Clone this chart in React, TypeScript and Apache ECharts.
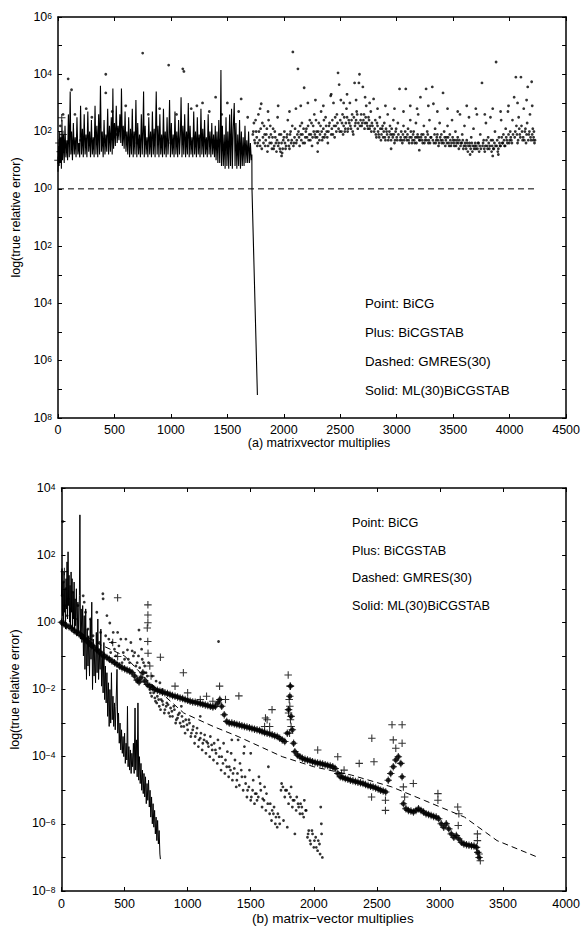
import React, { useEffect, useRef } from "react";
import * as echarts from "echarts";

// ---------- Panel (a): values are log10(true relative error) ----------
const topXTicks = [0, 500, 1000, 1500, 2000, 2500, 3000, 3500, 4000, 4500];

const topGmres: [number, number][] = [
  [0, 0], [4225, 0],
];

const topMl: [number, number][] = [
  [0, 0.6], [5, 1.5], [10, 0.8], [15, 2.0], [20, 0.9], [25, 1.8], [30, 0.7], [35, 2.4], [40, 1.0], [48, 1.9],
  [55, 0.9], [62, 2.2], [70, 1.1], [78, 1.7], [85, 1.0], [92, 2.6], [100, 1.1], [108, 3.4], [114, 1.2], [120, 2.0],
  [128, 1.0], [136, 2.3], [144, 1.2], [152, 1.8], [160, 1.1], [168, 2.5], [176, 1.2], [184, 1.6], [192, 1.1], [200, 2.9],
  [208, 1.2], [216, 2.1], [224, 1.1], [232, 2.6], [240, 1.2], [248, 1.9], [256, 1.1], [264, 2.7], [272, 1.3], [280, 2.0],
  [288, 1.1], [296, 2.4], [304, 1.2], [312, 1.8], [320, 1.1], [328, 2.9], [336, 1.2], [344, 2.2], [352, 1.1], [360, 2.6],
  [368, 1.2], [376, 3.6], [384, 1.3], [392, 2.0], [400, 1.1], [408, 2.4], [416, 1.2], [424, 1.9], [432, 1.3], [440, 2.8],
  [448, 1.2], [456, 2.2], [464, 1.3], [472, 2.5], [480, 1.2], [486, 3.5], [492, 1.4], [500, 2.3], [508, 1.5], [516, 2.9],
  [524, 1.6], [532, 2.2], [540, 1.7], [548, 2.6], [556, 1.6], [562, 3.5], [570, 1.5], [578, 2.2], [586, 1.4], [594, 2.7],
  [602, 1.3], [610, 2.0], [618, 1.2], [626, 2.5], [634, 1.1], [642, 2.1], [650, 1.2], [658, 2.8], [666, 1.1], [674, 2.0],
  [682, 1.2], [690, 3.1], [698, 1.1], [706, 2.3], [714, 1.2], [722, 1.9], [730, 1.1], [738, 2.6], [746, 1.2], [752, 2.0],
  [758, 3.4], [764, 1.1], [772, 2.2], [780, 1.2], [788, 1.8], [796, 1.1], [804, 2.5], [812, 1.2], [820, 2.0], [828, 1.1],
  [836, 2.7], [844, 1.2], [852, 2.1], [860, 1.1], [870, 3.4], [878, 1.2], [886, 2.2], [894, 1.1], [902, 2.6], [910, 1.2],
  [918, 1.9], [926, 1.1], [934, 2.8], [942, 1.2], [950, 2.0], [958, 1.1], [966, 2.5], [974, 1.2], [982, 1.8], [988, 3.1],
  [996, 1.1], [1004, 2.3], [1012, 1.2], [1020, 1.9], [1028, 1.1], [1036, 2.7], [1044, 1.2], [1052, 2.0], [1060, 1.1], [1068, 2.4],
  [1076, 1.2], [1084, 1.9], [1090, 3.2], [1098, 1.1], [1106, 2.2], [1114, 1.2], [1122, 2.6], [1130, 1.1], [1138, 2.0], [1146, 1.2],
  [1154, 3.0], [1162, 1.1], [1170, 2.2], [1178, 1.2], [1186, 1.8], [1194, 1.1], [1202, 2.7], [1210, 1.2], [1218, 2.0], [1226, 1.1],
  [1234, 2.5], [1242, 1.2], [1250, 1.9], [1258, 1.1], [1266, 2.8], [1274, 1.2], [1282, 2.1], [1290, 1.1], [1298, 2.4], [1306, 1.2],
  [1314, 1.8], [1322, 1.1], [1330, 2.6], [1338, 1.2], [1346, 2.0], [1354, 1.1], [1362, 2.3], [1370, 1.2], [1378, 1.9], [1386, 1.1],
  [1393, 2.2], [1400, 1.0], [1408, 2.0], [1416, 0.9], [1424, 2.4], [1432, 0.9], [1438, 1.8], [1443, 4.15], [1448, 0.8], [1456, 2.2],
  [1464, 0.8], [1472, 1.9], [1480, 0.7], [1488, 2.5], [1496, 0.8], [1504, 2.0], [1512, 0.7], [1520, 2.6], [1528, 0.8], [1537, 2.8],
  [1544, 0.7], [1552, 2.1], [1561, 3.0], [1568, 0.8], [1576, 2.3], [1584, 0.7], [1592, 1.9], [1600, 0.8], [1608, 2.4], [1616, 0.7],
  [1624, 2.0], [1632, 0.8], [1640, 1.8], [1648, 0.8], [1656, 2.2], [1664, 0.9], [1672, 1.7], [1680, 0.9], [1688, 2.0], [1696, 0.9],
  [1704, 1.6], [1712, 1.0], [1717, 1.2], [1718, 0.0], [1766, -7.2],
];

const topBicg: [number, number][] = [
  [20, 2.2], [45, 2.6], [60, 1.5], [90, 3.84], [120, 3.46], [150, 2.6], [200, 1.7], [250, 2.8], [300, 2.5], [350, 1.8],
  [423, 4.0], [423, 3.35], [480, 2.7], [520, 1.9], [600, 2.9], [700, 1.6], [750, 4.74], [800, 2.6], [850, 1.7], [900, 2.8],
  [980, 4.32], [1000, 1.6], [1050, 2.6], [1105, 4.19], [1115, 4.1], [1150, 1.8], [1180, 2.8], [1230, 2.9], [1280, 3.0], [1300, 1.7],
  [1340, 2.7], [1396, 3.2], [1450, 2.6], [1480, 1.6], [1500, 3.0], [1600, 2.7], [1622, 3.14], [1650, 1.5], [1680, 2.5],
  [1725, 1.9], [1735, 2.3], [1745, 1.6], [1755, 2.0], [1765, 1.5], [1775, 2.6], [1785, 1.7], [1795, 2.1], [1800, 2.97], [1805, 1.4],
  [1815, 1.8], [1825, 2.2], [1835, 1.5], [1845, 1.9], [1855, 1.3], [1865, 2.4], [1875, 1.6], [1885, 1.9], [1895, 1.4], [1905, 2.1],
  [1915, 1.5], [1925, 1.8], [1935, 1.3], [1945, 2.5], [1955, 1.6], [1965, 1.4], [1975, 1.9], [1985, 1.25], [1995, 1.7], [2005, 2.0],
  [2015, 1.4], [2025, 1.8], [2035, 2.4], [2045, 1.5], [2055, 1.9], [2065, 1.6], [2075, 2.2], [2080, 4.78], [2085, 1.5], [2095, 1.8],
  [2107, 2.8], [2115, 1.7], [2125, 4.19], [2130, 2.0], [2140, 1.5], [2150, 1.9], [2160, 2.3], [2170, 1.6], [2180, 3.53], [2190, 1.8],
  [2200, 2.1], [2213, 3.0], [2220, 1.7], [2230, 2.4], [2240, 1.9], [2250, 1.5], [2260, 2.2], [2270, 2.6], [2280, 1.8], [2290, 2.0],
  [2300, 1.6], [2310, 2.3], [2320, 1.9], [2330, 2.7], [2340, 1.7], [2350, 2.1], [2360, 1.8], [2370, 2.5], [2380, 2.0], [2390, 1.6],
  [2400, 2.2], [2415, 3.25], [2420, 1.9], [2430, 2.4], [2440, 3.0], [2450, 1.8], [2460, 2.2], [2470, 2.6], [2480, 4.05], [2490, 3.64],
  [2495, 2.0], [2505, 3.1], [2515, 2.3], [2525, 1.9], [2535, 2.5], [2545, 2.1], [2555, 2.8], [2565, 2.0], [2575, 2.4], [2585, 3.0],
  [2595, 2.1], [2605, 2.6], [2615, 1.9], [2627, 3.7], [2635, 2.3], [2645, 2.7], [2655, 2.1], [2665, 3.7], [2670, 4.0], [2680, 2.4],
  [2690, 2.2], [2700, 3.56], [2710, 2.6], [2720, 2.3], [2730, 2.9], [2740, 2.2], [2750, 2.5], [2760, 2.1], [2770, 2.7], [2780, 2.3],
  [2795, 3.14], [2800, 2.0], [2810, 2.4], [2820, 1.8], [2830, 2.2], [2840, 1.9], [2850, 2.5], [2860, 1.7], [2870, 2.1], [2880, 1.8],
  [2890, 2.3], [2900, 1.7], [2910, 2.0], [2920, 2.6], [2930, 1.8], [2940, 2.2], [2950, 1.7], [2960, 1.9], [2970, 2.4], [2980, 1.6],
  [2990, 2.0], [3000, 1.8], [3010, 2.3], [3025, 3.49], [3030, 1.7], [3040, 2.0], [3050, 1.6], [3060, 2.2], [3070, 1.8], [3080, 3.49],
  [3090, 1.7], [3100, 2.1], [3110, 1.6], [3120, 2.4], [3130, 1.8], [3140, 1.7], [3150, 2.0], [3160, 1.6], [3170, 2.3], [3180, 1.8],
  [3190, 2.6], [3200, 1.7], [3210, 3.2], [3220, 1.9], [3230, 1.6], [3240, 2.2], [3250, 1.7], [3260, 3.49], [3270, 2.0], [3280, 1.6],
  [3290, 2.4], [3300, 1.8], [3315, 3.56], [3325, 2.97], [3330, 1.6], [3340, 2.1], [3350, 1.7], [3360, 1.9], [3370, 1.5], [3380, 2.3],
  [3390, 1.7], [3400, 1.6], [3410, 3.35], [3420, 2.0], [3430, 1.5], [3440, 1.8], [3450, 2.2], [3460, 1.6], [3470, 1.9], [3480, 1.5],
  [3490, 2.4], [3500, 1.7], [3510, 1.5], [3520, 2.0], [3530, 1.6], [3540, 1.8], [3550, 1.4], [3560, 2.6], [3570, 1.6], [3580, 1.9],
  [3590, 1.4], [3600, 2.2], [3610, 1.5], [3620, 1.7], [3630, 1.3], [3640, 2.5], [3650, 1.5], [3660, 1.8], [3670, 1.3], [3680, 2.1],
  [3690, 1.5], [3700, 1.4], [3710, 2.6], [3720, 1.6], [3730, 1.3], [3740, 1.9], [3755, 3.7], [3760, 1.5], [3770, 1.7], [3780, 1.3],
  [3790, 2.3], [3800, 1.5], [3810, 1.8], [3820, 1.4], [3830, 2.5], [3840, 1.3], [3850, 1.7], [3860, 1.4], [3870, 2.0], [3880, 4.43],
  [3885, 1.5], [3895, 1.3], [3905, 1.8], [3915, 1.5], [3925, 2.4], [3935, 1.6], [3945, 1.9], [3955, 1.5], [3965, 2.1], [3975, 1.7],
  [3985, 2.7], [3995, 1.6], [4005, 2.0], [4015, 1.7], [4025, 2.4], [4040, 3.2], [4045, 1.8], [4055, 3.9], [4060, 2.2], [4070, 1.6],
  [4080, 2.5], [4090, 1.9], [4100, 3.9], [4105, 2.2], [4115, 1.7], [4125, 2.8], [4135, 2.0], [4145, 1.6], [4155, 2.3], [4160, 3.56],
  [4170, 1.9], [4180, 2.6], [4190, 1.7], [4195, 3.74], [4205, 2.1], [4212, 1.8], [4220, 1.6],
  [1730, 2.0], [1740, 1.7], [1750, 2.4], [1760, 1.8], [1770, 1.6], [1780, 2.0], [1790, 1.5], [1810, 2.3], [1820, 1.6], [1830, 1.9],
  [1840, 1.7], [1850, 2.1], [1860, 1.5], [1870, 1.8], [1880, 2.2], [1890, 1.6], [1900, 1.8], [1910, 1.4], [1920, 2.0], [1930, 1.6],
  [1940, 1.7], [1950, 1.5], [1960, 1.9], [1970, 1.3], [1980, 1.6], [1990, 1.4], [2000, 1.8], [2010, 1.6], [2020, 1.5], [2030, 1.9],
  [2040, 1.7], [2050, 1.4], [2060, 2.0], [2070, 1.7], [2090, 1.6], [2100, 2.1], [2110, 1.6], [2120, 1.9], [2135, 1.8], [2145, 2.2],
  [2155, 1.7], [2165, 1.9], [2175, 2.1], [2185, 1.6], [2195, 2.0], [2205, 1.8], [2215, 2.2], [2225, 1.9], [2235, 1.7], [2245, 2.3],
  [2255, 1.8], [2265, 2.0], [2275, 1.9], [2285, 2.4], [2295, 1.8], [2305, 2.0], [2315, 1.7], [2325, 2.2], [2335, 2.0], [2345, 1.8],
  [2355, 2.4], [2365, 1.9], [2375, 2.2], [2385, 1.8], [2395, 2.0], [2405, 2.3], [2425, 2.1], [2435, 1.9], [2445, 2.2], [2455, 2.5],
  [2465, 2.0], [2475, 2.3], [2485, 2.1], [2500, 2.4], [2510, 2.0], [2520, 2.6], [2530, 2.2], [2540, 2.0], [2550, 2.3], [2560, 2.5],
  [2570, 2.1], [2580, 2.3], [2590, 2.2], [2600, 2.4], [2610, 2.0], [2620, 2.5], [2630, 2.2], [2640, 2.4], [2650, 2.6], [2660, 2.3],
  [2675, 2.2], [2685, 2.6], [2695, 2.3], [2705, 2.4], [2715, 2.1], [2725, 2.5], [2735, 2.3], [2745, 2.1], [2755, 2.4], [2765, 2.2],
  [2775, 2.0], [2785, 2.2], [2805, 2.1], [2815, 1.9], [2825, 2.3], [2835, 2.0], [2845, 1.8], [2855, 2.1], [2865, 1.9], [2875, 2.2],
  [2885, 2.0], [2895, 1.8], [2905, 2.1], [2915, 1.9], [2925, 1.7], [2935, 2.0], [2945, 1.9], [2955, 2.1], [2965, 1.8], [2975, 1.9],
  [2985, 1.7], [2995, 2.1], [3005, 1.7], [3015, 1.9], [3035, 1.8], [3045, 1.7], [3055, 1.9], [3065, 1.7], [3075, 2.0], [3085, 1.8],
  [3095, 1.9], [3105, 1.7], [3115, 1.8], [3125, 2.0], [3135, 1.6], [3145, 1.9], [3155, 1.7], [3165, 1.8], [3175, 1.6], [3185, 1.9],
  [3195, 1.8], [3205, 1.7], [3215, 1.8], [3225, 1.7], [3235, 1.9], [3245, 1.6], [3255, 1.8], [3265, 1.7], [3275, 1.9], [3285, 1.7],
  [3295, 1.6], [3305, 1.8], [3320, 1.7], [3335, 1.9], [3345, 1.6], [3355, 1.8], [3365, 1.7], [3375, 1.6], [3385, 1.8], [3395, 1.9],
  [3405, 1.7], [3415, 1.6], [3425, 1.8], [3435, 1.7], [3445, 1.6], [3455, 1.8], [3465, 1.5], [3475, 1.7], [3485, 1.6], [3495, 1.8],
  [3505, 1.6], [3515, 1.7], [3525, 1.5], [3535, 1.7], [3545, 1.6], [3555, 1.7], [3565, 1.5], [3575, 1.6], [3585, 1.7], [3595, 1.5],
  [3605, 1.6], [3615, 1.4], [3625, 1.6], [3635, 1.5], [3645, 1.6], [3655, 1.4], [3665, 1.6], [3675, 1.5], [3685, 1.4], [3695, 1.6],
  [3705, 1.5], [3715, 1.4], [3725, 1.6], [3735, 1.5], [3745, 1.4], [3765, 1.6], [3775, 1.4], [3785, 1.5], [3795, 1.7], [3805, 1.4],
  [3815, 1.6], [3825, 1.5], [3835, 1.7], [3845, 1.5], [3855, 1.4], [3865, 1.6], [3875, 1.5], [3890, 1.7], [3900, 1.4], [3910, 1.6],
  [3920, 1.5], [3930, 1.8], [3940, 1.6], [3950, 1.7], [3960, 1.5], [3970, 1.8], [3980, 1.6], [3990, 1.9], [4000, 1.7], [4010, 1.8],
  [4020, 1.6], [4030, 1.9], [4050, 2.0], [4065, 1.9], [4075, 1.7], [4085, 2.1], [4095, 1.8], [4110, 2.0], [4120, 1.8], [4130, 1.7],
  [4140, 2.1], [4150, 1.9], [4165, 1.7], [4175, 2.0], [4185, 1.8], [4200, 1.9], [4210, 1.7], [4215, 2.0], [4225, 1.7],
  [1790, 2.8], [1860, 2.7], [1950, 2.9], [2050, 2.7], [2150, 2.9], [2280, 3.1], [2350, 2.9], [2420, 3.3], [2530, 3.0], [2560, 3.3],
  [2640, 3.1], [2720, 3.2], [2760, 3.0], [2830, 2.8], [2900, 2.9], [2980, 2.8], [3060, 2.7], [3120, 2.9], [3180, 2.8], [3280, 2.9],
  [3360, 2.7], [3450, 2.8], [3540, 2.7], [3620, 2.9], [3700, 2.8], [3780, 2.6], [3850, 2.8], [3920, 2.7], [3990, 2.9], [4070, 3.0],
  [4150, 3.1], [4200, 2.9], [1980, 1.15], [2300, 1.3], [2950, 1.4], [3200, 1.35], [3650, 1.2], [3850, 1.15], [3900, 1.2],
];

const topBicgstab: [number, number][] = [
  [0, 1.0], [8, 1.6], [20, 1.3], [33, 2.48], [45, 1.9],
];

// ---------- Panel (b) ----------
const bottomXTicks = [0, 500, 1000, 1500, 2000, 2500, 3000, 3500, 4000];

const bottomGmres: [number, number][] = [
  [0, 0.0], [100, -0.2], [300, -0.65], [500, -1.0], [700, -1.8], [969, -2.7], [1203, -3.1], [1400, -3.4],
  [1750, -4.0], [2000, -4.3], [2300, -4.55], [2617, -4.9], [2875, -5.3], [3195, -5.8], [3453, -6.5], [3779, -7.0],
];

const bottomMl: [number, number][] = [
  [0, 0.8], [4, 1.6], [8, 0.2], [12, 1.2], [16, -0.1], [20, 1.5], [24, 0.3], [28, 1.0], [32, -0.2], [36, 1.3],
  [40, 0.4], [44, 1.8], [48, 0.1], [52, 2.1], [56, 0.5], [60, 1.4], [64, 0.0], [68, 1.1], [72, -0.1], [76, 1.5],
  [80, 0.3], [84, 1.3], [88, -0.2], [92, 0.9], [96, 0.1], [100, 1.2], [104, -0.3], [108, 0.7], [112, -0.1], [118, 1.0],
  [124, -0.4], [130, 0.6], [136, -0.3], [142, 0.8], [146, 3.2], [150, -0.5], [156, 0.4], [162, -0.6], [168, 0.5], [174, -1.0],
  [180, 0.2], [186, -1.4], [192, 0.4], [198, -1.7], [204, -0.2], [210, -1.3], [216, -0.4], [222, -1.6], [228, 0.1], [234, -1.1],
  [240, 0.6], [246, -2.0], [252, -0.5], [258, -1.6], [264, -0.8], [270, -1.8], [276, -0.3], [282, -1.5], [288, 0.1], [294, -1.7],
  [300, -0.9], [306, -1.4], [312, -0.2], [318, -1.9], [324, -1.0], [330, -2.1], [336, -0.6], [342, -2.3], [348, -1.3], [354, -2.4],
  [360, -1.5], [366, -2.8], [372, -1.8], [378, -3.1], [384, -2.0], [390, -3.0], [396, -1.5], [402, -2.9], [408, -2.2], [414, -3.1],
  [420, -2.4], [426, -3.2], [432, -2.5], [440, -1.4], [446, -3.3], [452, -2.7], [458, -3.6], [464, -3.0], [470, -3.8], [476, -3.2],
  [482, -3.9], [488, -3.4], [494, -4.0], [500, -3.3], [506, -4.2], [512, -3.6], [518, -4.1], [523, -2.5], [528, -4.3], [534, -3.7],
  [540, -4.4], [546, -3.8], [552, -4.5], [558, -3.9], [564, -4.3], [570, -3.6], [576, -4.5], [583, -2.55], [588, -4.4], [594, -3.5],
  [600, -4.6], [606, -2.4], [612, -4.7], [618, -4.0], [624, -4.8], [630, -4.2], [636, -5.0], [642, -4.4], [648, -5.1], [654, -4.5],
  [660, -5.2], [666, -4.6], [672, -5.4], [678, -4.8], [684, -5.3], [690, -4.7], [696, -5.5], [702, -5.0], [708, -5.8], [714, -5.2],
  [720, -6.0], [726, -5.4], [732, -6.1], [738, -5.6], [744, -6.3], [750, -5.8], [756, -6.5], [762, -5.9], [768, -6.6], [774, -6.2],
  [780, -6.9], [784, -7.05],
];

// the thick converging band shared by BiCG (points) and BiCGSTAB (plus)
const bottomBand: [number, number][] = [
  [0, 0.0], [20, -0.05], [40, -0.1], [60, -0.13], [80, -0.18], [100, -0.25], [120, -0.3], [140, -0.35], [160, -0.4], [180, -0.48],
  [200, -0.55], [220, -0.62], [240, -0.7], [260, -0.75], [280, -0.82], [300, -0.88], [320, -0.95], [340, -1.0], [360, -1.05], [380, -1.1],
  [400, -1.15], [420, -1.2], [440, -1.25], [460, -1.3], [480, -1.35], [500, -1.38], [520, -1.42], [540, -1.45], [560, -1.5], [580, -1.6],
  [600, -1.72], [615, -1.78], [630, -1.65], [645, -1.5], [660, -1.75], [680, -1.85], [700, -1.9], [720, -1.95], [740, -2.0], [760, -2.02],
  [780, -2.05], [800, -2.08], [820, -2.1], [840, -2.12], [860, -2.15], [880, -2.18], [900, -2.2], [920, -2.22], [940, -2.25], [960, -2.27],
  [980, -2.3], [1000, -2.32], [1020, -2.35], [1040, -2.37], [1060, -2.38], [1080, -2.4], [1100, -2.42], [1120, -2.44], [1140, -2.46], [1160, -2.48],
  [1180, -2.5], [1200, -2.52], [1220, -2.5], [1240, -2.4], [1255, -2.3], [1270, -2.5], [1290, -2.75], [1310, -2.95], [1330, -3.0], [1350, -3.0],
  [1370, -3.02], [1390, -3.04], [1410, -3.06], [1430, -3.08], [1450, -3.1], [1470, -3.12], [1490, -3.14], [1510, -3.16], [1530, -3.18], [1550, -3.2],
  [1570, -3.22], [1590, -3.25], [1610, -3.28], [1630, -3.3], [1650, -3.32], [1670, -3.35], [1690, -3.38], [1710, -3.4], [1730, -3.45], [1750, -3.5],
  [1770, -3.55], [1790, -3.3], [1800, -2.6], [1810, -2.2], [1815, -1.9], [1820, -2.8], [1830, -3.2], [1840, -3.6], [1850, -3.85], [1870, -3.95],
  [1890, -4.0], [1910, -4.05], [1930, -4.08], [1950, -4.1], [1970, -4.12], [1990, -4.15], [2010, -4.17], [2030, -4.19], [2050, -4.2], [2070, -4.22],
  [2090, -4.24], [2110, -4.26], [2130, -4.28], [2150, -4.3], [2170, -4.35], [2190, -4.5], [2210, -4.6], [2230, -4.62], [2250, -4.65], [2270, -4.67],
  [2290, -4.7], [2310, -4.72], [2330, -4.74], [2350, -4.76], [2370, -4.78], [2390, -4.8], [2410, -4.83], [2430, -4.86], [2450, -4.88], [2470, -4.9],
  [2490, -4.93], [2510, -4.96], [2530, -5.0], [2550, -5.02], [2570, -5.05], [2590, -4.7], [2610, -4.5], [2630, -4.3], [2650, -4.1], [2670, -4.0],
  [2690, -4.2], [2700, -4.6], [2710, -5.4], [2730, -5.55], [2750, -5.6], [2770, -5.62], [2790, -5.65], [2810, -5.6], [2830, -5.55], [2850, -5.6],
  [2870, -5.65], [2890, -5.7], [2910, -5.72], [2930, -5.75], [2950, -5.78], [2970, -5.8], [2990, -5.85], [3010, -6.0], [3030, -6.1], [3050, -6.0],
  [3070, -6.15], [3090, -6.3], [3110, -6.4], [3130, -6.35], [3150, -6.45], [3170, -6.55], [3190, -6.6], [3210, -6.62], [3230, -6.64], [3250, -6.65],
  [3270, -6.66], [3290, -6.7], [3300, -6.85], [3310, -7.0],
];

const bottomBicgstab: [number, number][] = [
  [23, 1.51], [445, 0.73], [685, 0.52], [685, 0.22], [685, -0.01], [680, -0.17], [684, -0.57], [686, -0.92], [784, -1.04], [966, -1.5],
  [406, -0.6], [445, -1.02], [700, -1.3], [710, -1.6], [1253, -1.9], [1406, -2.19], [1669, -2.6], [1617, -2.85], [1610, -3.1], [1797, -1.57],
  [1812, -1.9], [1805, -2.3], [1810, -2.5], [1800, -2.7], [1815, -2.9], [1820, -3.1], [1808, -3.3], [2620, -3.05], [2700, -3.05], [2460, -3.45],
  [2630, -3.5], [2700, -3.6], [2650, -3.75], [2360, -4.2], [2477, -4.15], [2458, -5.2], [2568, -5.3], [2568, -5.6], [2789, -4.8], [2984, -5.1],
  [2984, -5.3], [3141, -5.5], [3150, -5.7], [3145, -6.05], [3297, -6.3], [3297, -6.5], [3310, -6.9], [3320, -7.1], [1150, -2.2], [1300, -2.3],
  [1200, -2.35], [1100, -2.3], [900, -1.9], [1000, -2.1], [2220, -4.5], [2240, -4.4], [2710, -4.9], [2720, -5.2], [1630, -2.9], [1650, -3.1],
  [2031, -3.8], [2190, -4.0],
];

const bottomBicg: [number, number][] = [
  [10, 3.0], [5, 0.8], [15, 1.2], [25, 0.5], [35, 1.0], [45, 0.2], [55, 0.7], [70, 0.4], [90, 0.9], [110, 0.1],
  [130, 0.5], [172, 0.79], [180, 0.6], [190, 0.3], [210, -0.2], [230, 0.1], [250, -0.4], [280, 0.3], [300, -0.6], [328, 0.85],
  [330, 0.7], [350, -0.4], [383, -0.02], [400, -0.6], [420, -0.8], [445, -0.3], [470, -0.5], [490, -0.9], [523, -0.82], [550, -0.6],
  [570, -1.0], [600, -1.2], [614, -0.23], [625, -0.5], [640, -1.1], [660, -1.3], [680, -1.6], [1245, -0.57], [500, -1.1], [540, -1.2],
  [580, -0.9], [620, -1.35], [650, -1.2],
  [310, -0.3], [360, 0.2], [375, -0.5], [390, -0.9], [410, -0.3], [430, -1.0], [455, -0.7], [480, -1.2], [510, -0.5], [530, -1.1],
  [560, -0.85], [590, -1.3], [610, -1.0], [635, -0.8], [670, -1.5], [690, -1.2], [720, -1.6], [750, -1.75], [780, -1.8],
  [700, -2.0], [715, -2.2], [730, -2.1], [745, -2.35], [760, -2.2], [775, -2.5], [790, -2.3], [805, -2.45], [820, -2.6], [835, -2.4],
  [850, -2.7], [865, -2.55], [880, -2.8], [895, -2.6], [910, -2.9], [925, -2.75], [940, -3.0], [955, -2.8], [970, -3.1], [985, -2.9],
  [1000, -3.2], [1015, -3.0], [1030, -3.3], [1045, -3.1], [1060, -3.4], [1075, -3.15], [1090, -3.5], [1105, -3.3], [1120, -3.6], [1135, -3.35],
  [1150, -3.55], [1165, -3.7], [1180, -3.4], [1195, -3.8], [1210, -3.6], [1225, -3.9], [1240, -3.5], [1255, -3.75], [1270, -4.0], [1285, -3.6],
  [1300, -4.1], [1315, -3.85], [1330, -4.3], [1345, -3.9], [1360, -4.5], [1375, -4.1], [1390, -4.7], [1400, -3.5], [1415, -4.2], [1430, -4.6],
  [1445, -3.9], [1460, -4.8], [1475, -5.0], [1490, -4.4], [1505, -5.2], [1520, -4.7], [1535, -5.1], [1550, -5.3], [1565, -4.6], [1580, -5.0],
  [1595, -5.25], [1610, -4.9], [1625, -5.1], [1640, -4.3], [1655, -5.4], [1670, -5.6], [1685, -5.5], [1700, -5.8], [1715, -5.7], [1730, -6.0],
  [1745, -4.8], [1760, -5.9], [1775, -5.0], [1790, -6.1], [1805, -5.1], [1820, -4.9], [1835, -5.3], [1850, -6.3], [1865, -5.2], [1880, -5.5],
  [1895, -5.4], [1910, -5.7], [1925, -5.3], [1940, -5.6], [1955, -6.3], [1970, -6.5], [1985, -6.2], [2000, -6.7], [2015, -6.4], [2030, -6.8],
  [2045, -6.6], [2055, -5.5], [2060, -6.0], [2068, -7.0], [1500, -3.9], [1450, -3.7], [1350, -3.5], [1100, -2.8], [950, -2.5], [800, -2.0],
  [705, -2.1], [725, -1.9], [740, -2.25], [755, -2.4], [770, -2.3], [785, -2.6], [800, -2.35], [815, -2.7], [830, -2.5], [845, -2.45],
  [860, -2.8], [875, -2.65], [890, -2.5], [905, -3.0], [920, -2.85], [935, -2.7], [950, -3.1], [965, -2.95], [980, -3.3], [995, -3.05],
  [1010, -2.9], [1025, -3.4], [1040, -3.2], [1055, -3.6], [1070, -3.3], [1085, -3.7], [1100, -3.45], [1115, -3.8], [1130, -3.5], [1145, -3.9],
  [1160, -3.6], [1175, -4.0], [1190, -3.65], [1205, -4.1], [1220, -3.8], [1235, -4.2], [1250, -4.0], [1265, -4.4], [1280, -4.2], [1295, -4.5],
  [1310, -4.3], [1325, -4.6], [1340, -4.4], [1355, -4.7], [1370, -4.35], [1385, -4.9], [1395, -4.5], [1410, -4.85], [1425, -4.4], [1440, -5.0],
  [1455, -4.6], [1470, -5.2], [1485, -4.9], [1500, -5.3], [1515, -5.0], [1530, -5.4], [1545, -5.1], [1560, -5.2], [1575, -4.8], [1590, -5.5],
  [1605, -5.3], [1620, -5.6], [1635, -5.4], [1650, -5.7], [1665, -5.9], [1680, -5.7], [1695, -6.0], [1710, -6.1], [1725, -5.8], [1740, -5.0],
  [1755, -4.9], [1770, -5.2], [1785, -5.0], [1800, -5.4], [1815, -5.2], [1830, -5.5], [1845, -5.3], [1860, -5.6], [1875, -5.4], [1890, -5.7],
  [1905, -5.5], [1920, -5.8], [1935, -5.6], [1950, -6.4], [1960, -6.2], [1975, -6.6], [1990, -6.3], [2005, -6.5], [2020, -6.7], [2035, -6.5],
  [2050, -6.9], [2062, -6.3],
];

const topLegend = ["Point: BiCG", "Plus: BiCGSTAB", "Dashed: GMRES(30)", "Solid: ML(30)BiCGSTAB"];
const bottomLegend = ["Point: BiCG", "Plus: BiCGSTAB", "Dashed: GMRES(30)", "Solid: ML(30)BiCGSTAB"];

const FONT = "Liberation Sans, Arial, Helvetica, sans-serif";
const PLUS = "path://M3,0H4V3H7V4H4V7H3V4H0V3H3Z";

export default function App() {
  const ref = useRef<HTMLDivElement>(null);
  useEffect(() => {
    document.body.style.margin = "0";
    if (!ref.current) return;
    const chart = echarts.init(ref.current, null, { renderer: "svg" });

    const axisLineStyle = { color: "#000", width: 1.5 };
    const tickStyle = { show: true, inside: true, length: 4, interval: 0, lineStyle: { color: "#000", width: 1 } };
    const rich = {
      b: { fontSize: 12.5, fontFamily: FONT, color: "#000", lineHeight: 12, padding: [6, 0, 0, 0], verticalAlign: "bottom" },
      s: { fontSize: 8.5, fontFamily: FONT, color: "#000", lineHeight: 8, verticalAlign: "top" },
    };
    const yLabel = (withMinus: boolean) => (v: number) => {
      if (Math.round(v) % 2 !== 0) return "";
      const e = Math.round(v);
      const t = e < 0 ? (withMinus ? "\u2212" + -e : String(-e)) : String(e);
      return `{b|10}{s|${t}}`;
    };

    const xMain = (grid: number, max: number, ticks: number[], name: string, margin: number, gap: number, shift: number, nameSize: number) => ({
      gridIndex: grid, type: "value", min: ticks[0], max, interval: 500, position: "bottom",
      axisLine: { show: true, onZero: false, lineStyle: axisLineStyle },
      axisTick: tickStyle,
      axisLabel: { color: "#000", fontSize: 12.5, fontFamily: FONT, margin, interval: 0, formatter: (v: number) => String(v) },
      splitLine: { show: false },
      name, nameLocation: "middle", nameGap: gap,
      nameTextStyle: { color: "#000", fontSize: nameSize, fontFamily: FONT, padding: [0, 0, 0, shift] },
    });
    const xTop = (grid: number, max: number) => ({
      gridIndex: grid, type: "value", min: 0, max, interval: 500, position: "top",
      axisLine: { show: true, onZero: false, lineStyle: axisLineStyle },
      axisTick: tickStyle, axisLabel: { show: false }, splitLine: { show: false },
    });
    const yMain = (grid: number, min: number, max: number, withMinus: boolean) => ({
      gridIndex: grid, type: "value", min, max, interval: 1, position: "left",
      axisLine: { show: true, onZero: false, lineStyle: axisLineStyle },
      axisTick: tickStyle,
      axisLabel: { formatter: yLabel(withMinus), rich, margin: 6, interval: 0 },
      splitLine: { show: false },
      name: "log(true relative error)", nameLocation: "middle", nameGap: 31,
      nameTextStyle: { color: "#000", fontSize: 12.5, fontFamily: FONT },
    });
    const yRight = (grid: number, min: number, max: number) => ({
      gridIndex: grid, type: "value", min, max, interval: 1, position: "right",
      axisLine: { show: true, onZero: false, lineStyle: axisLineStyle },
      axisTick: tickStyle, axisLabel: { show: false }, splitLine: { show: false },
    });

    const dots = (xi: number, yi: number, data: [number, number][], size: number) => ({
      type: "scatter", xAxisIndex: xi, yAxisIndex: yi, data, symbol: "circle", symbolSize: size,
      itemStyle: { color: "#000" }, silent: true,
    });
    const plus = (xi: number, yi: number, data: [number, number][]) => ({
      type: "scatter", xAxisIndex: xi, yAxisIndex: yi, data, symbol: PLUS, symbolSize: 7.5,
      itemStyle: { color: "#000" }, silent: true,
    });
    const line = (xi: number, yi: number, data: [number, number][], dashed: boolean, width: number) => ({
      type: "line", xAxisIndex: xi, yAxisIndex: yi, data, symbol: "none", silent: true,
      lineStyle: { color: "#000", width, type: dashed ? [6, 4] : "solid" },
    });

    const legendTexts = (items: string[], x: number, y0: number, step: number, size: number) =>
      items.map((t, i) => ({
        type: "text", x, y: y0 + i * step, silent: true,
        style: { text: t, fontSize: size, fontFamily: FONT, fill: "#000", verticalAlign: "middle", align: "left" },
      }));

    chart.setOption({
      animation: false,
      grid: [
        { left: 58, right: 15, top: 17, height: 401 },
        { left: 58, right: 15, top: 488, height: 403 },
      ],
      xAxis: [
        xMain(0, 4500, topXTicks, "(a) matrixvector multiplies", 5, 17, 14, 12.5),
        xTop(0, 4500),
        xMain(1, 4000, bottomXTicks, "(b) matrix\u2212vector multiplies", 6, 20, 38, 13.5),
        xTop(1, 4000),
      ],
      yAxis: [
        yMain(0, -8, 6, false),
        yRight(0, -8, 6),
        yMain(1, -8, 4, true),
        yRight(1, -8, 4),
      ],
      series: [
        dots(0, 0, topBicg, 2.8),
        plus(0, 0, topBicgstab),
        line(0, 0, topGmres, true, 1),
        line(0, 0, topMl, false, 1.1),
        dots(2, 2, bottomBicg, 2.8),
        dots(2, 2, bottomBand, 5),
        plus(2, 2, bottomBand),
        plus(2, 2, bottomBicgstab),
        line(2, 2, bottomGmres, true, 1),
        line(2, 2, bottomMl, false, 1),
      ],
      graphic: [
        ...legendTexts(topLegend, 365, 303, 29, 13.3),
        ...legendTexts(bottomLegend, 352, 523, 27.7, 12.7),
      ],
    });
    return () => chart.dispose();
  }, []);
  return <div ref={ref} style={{ width: 583, height: 926 }} />;
}
